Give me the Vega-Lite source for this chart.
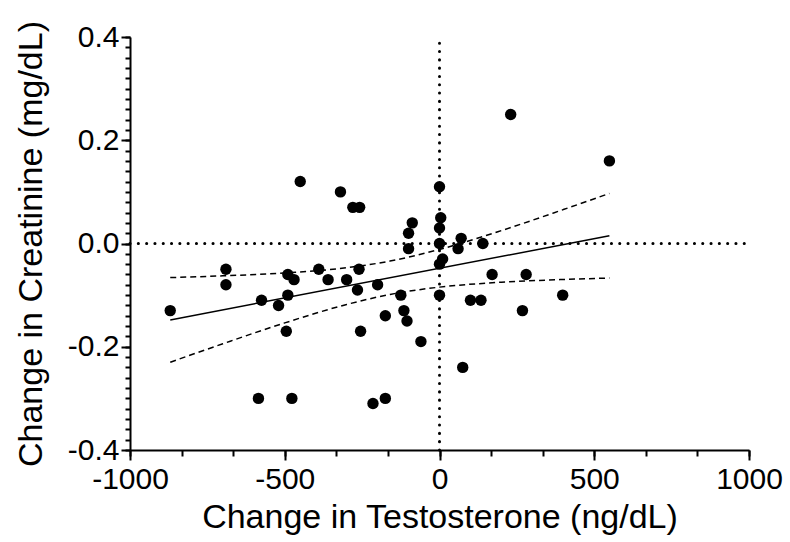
{
  "$schema": "https://vega.github.io/schema/vega-lite/v6.json",
  "autosize": {"type": "none"},
  "padding": {"left": 130, "top": 37, "right": 41, "bottom": 92},
  "width": 619,
  "height": 413,
  "background": "white",
  "config": {
    "view": {"stroke": null},
    "font": "Liberation Sans",
    "axis": {
      "domainColor": "black", "domainWidth": 2, "tickColor": "black", "tickWidth": 2,
      "labelColor": "black", "labelFont": "Liberation Sans", "labelFontSize": 30,
      "titleColor": "black", "titleFont": "Liberation Sans", "titleFontSize": 34, "titleFontWeight": "normal",
      "grid": false, "labelOverlap": false, "labelFlush": false
    }
  },
  "datasets": {
    "pts": [
      {"t": -870, "c": -0.13}, {"t": -690, "c": -0.05}, {"t": -690, "c": -0.08}, {"t": -585, "c": -0.30},
      {"t": -575, "c": -0.11}, {"t": -520, "c": -0.12}, {"t": -490, "c": -0.06}, {"t": -470, "c": -0.07},
      {"t": -490, "c": -0.10}, {"t": -495, "c": -0.17}, {"t": -477, "c": -0.30}, {"t": -450, "c": 0.12},
      {"t": -390, "c": -0.05}, {"t": -360, "c": -0.07}, {"t": -320, "c": 0.10}, {"t": -300, "c": -0.07},
      {"t": -280, "c": 0.07}, {"t": -258, "c": 0.07}, {"t": -260, "c": -0.05}, {"t": -265, "c": -0.09},
      {"t": -255, "c": -0.17}, {"t": -215, "c": -0.31}, {"t": -200, "c": -0.08}, {"t": -175, "c": -0.14},
      {"t": -175, "c": -0.30}, {"t": -125, "c": -0.10}, {"t": -115, "c": -0.13}, {"t": -105, "c": -0.15},
      {"t": -100, "c": -0.01}, {"t": -100, "c": 0.02}, {"t": -88, "c": 0.04}, {"t": -60, "c": -0.19},
      {"t": 0, "c": 0.11}, {"t": 4, "c": 0.05}, {"t": 0, "c": 0.03}, {"t": 0, "c": 0.00},
      {"t": 10, "c": -0.03}, {"t": 0, "c": -0.04}, {"t": 0, "c": -0.10}, {"t": 60, "c": -0.01},
      {"t": 70, "c": 0.01}, {"t": 75, "c": -0.24}, {"t": 100, "c": -0.11}, {"t": 134, "c": -0.11},
      {"t": 140, "c": 0.00}, {"t": 170, "c": -0.06}, {"t": 230, "c": 0.25}, {"t": 268, "c": -0.13},
      {"t": 280, "c": -0.06}, {"t": 398, "c": -0.10}, {"t": 549, "c": 0.16}
    ],
    "fit": [{"t": -870, "c": -0.148}, {"t": 549, "c": 0.015}],
    "band": [
      {"s": "upper", "t": -870, "c": -0.066}, {"s": "upper", "t": -700, "c": -0.0626},
      {"s": "upper", "t": -500, "c": -0.057}, {"s": "upper", "t": -300, "c": -0.0469},
      {"s": "upper", "t": -160, "c": -0.0341}, {"s": "upper", "t": 0, "c": -0.0115},
      {"s": "upper", "t": 200, "c": 0.025}, {"s": "upper", "t": 400, "c": 0.0657},
      {"s": "upper", "t": 549, "c": 0.097},
      {"s": "lower", "t": -870, "c": -0.230}, {"s": "lower", "t": -700, "c": -0.1942},
      {"s": "lower", "t": -500, "c": -0.1538}, {"s": "lower", "t": -300, "c": -0.1181},
      {"s": "lower", "t": -160, "c": -0.0987}, {"s": "lower", "t": 0, "c": -0.0845},
      {"s": "lower", "t": 200, "c": -0.075}, {"s": "lower", "t": 400, "c": -0.0697},
      {"s": "lower", "t": 549, "c": -0.067}
    ],
    "refs": [
      {"t": 0, "t2": 0, "c": -0.4, "c2": 0.4},
      {"t": -1000, "t2": 1000, "c": 0, "c2": 0}
    ]
  },
  "resolve": {"axis": {"x": "independent", "y": "independent"}},
  "layer": [
    {
      "data": {"name": "pts"},
      "mark": {"type": "circle", "color": "black", "opacity": 0, "size": 1},
      "encoding": {
        "x": {"field": "t", "type": "quantitative",
              "scale": {"domain": [-1000, 1000], "nice": false, "zero": false},
              "axis": {"orient": "bottom",
                       "values": [-1000, -833.33, -666.67, -500, -333.33, -166.67, 0, 166.67, 333.33, 500, 666.67, 833.33, 1000],
                       "tickSize": 6, "labels": false, "domain": false, "title": null}},
        "y": {"field": "c", "type": "quantitative",
              "scale": {"domain": [-0.4, 0.4], "nice": false, "zero": false},
              "axis": {"orient": "left",
                       "values": [-0.4, -0.38, -0.36, -0.34, -0.32, -0.3, -0.28, -0.26, -0.24, -0.22, -0.2, -0.18, -0.16, -0.14, -0.12, -0.1, -0.08, -0.06, -0.04, -0.02, 0, 0.02, 0.04, 0.06, 0.08, 0.1, 0.12, 0.14, 0.16, 0.18, 0.2, 0.22, 0.24, 0.26, 0.28, 0.3, 0.32, 0.34, 0.36, 0.38, 0.4],
                       "tickSize": 5, "labels": false, "domain": false, "title": null}}
      }
    },
    {
      "data": {"name": "refs"},
      "mark": {"type": "rule", "color": "black", "strokeWidth": 3, "strokeDash": [0.1, 8.2], "strokeCap": "round"},
      "encoding": {
        "x": {"field": "t", "type": "quantitative",
              "axis": {"orient": "bottom", "values": [-1000, -500, 0, 500, 1000], "tickSize": 10, "labelPadding": 4,
                       "labelExpr": "datum.value < 0 ? '-' + format(-datum.value, 'd') : format(datum.value, 'd')",
                       "title": "Change in Testosterone (ng/dL)", "titlePadding": 6}},
        "x2": {"field": "t2"},
        "y": {"field": "c", "type": "quantitative",
              "axis": {"orient": "left", "values": [-0.4, -0.2, 0, 0.2, 0.4], "tickSize": 9, "labelPadding": 2,
                       "labelExpr": "datum.value < -0.001 ? '-' + format(-datum.value, '.1f') : format(abs(datum.value), '.1f')",
                       "title": "Change in Creatinine (mg/dL)", "titlePadding": 19}},
        "y2": {"field": "c2"}
      }
    },
    {
      "data": {"name": "band"},
      "mark": {"type": "line", "color": "black", "strokeWidth": 1.5, "strokeDash": [6, 4], "interpolate": "monotone"},
      "encoding": {
        "x": {"field": "t", "type": "quantitative", "axis": null},
        "y": {"field": "c", "type": "quantitative", "axis": null},
        "detail": {"field": "s"}
      }
    },
    {
      "data": {"name": "fit"},
      "mark": {"type": "line", "color": "black", "strokeWidth": 1.5},
      "encoding": {
        "x": {"field": "t", "type": "quantitative", "axis": null},
        "y": {"field": "c", "type": "quantitative", "axis": null}
      }
    },
    {
      "data": {"name": "pts"},
      "mark": {"type": "circle", "color": "black", "opacity": 1, "size": 130},
      "encoding": {
        "x": {"field": "t", "type": "quantitative", "axis": null},
        "y": {"field": "c", "type": "quantitative", "axis": null}
      }
    }
  ]
}
